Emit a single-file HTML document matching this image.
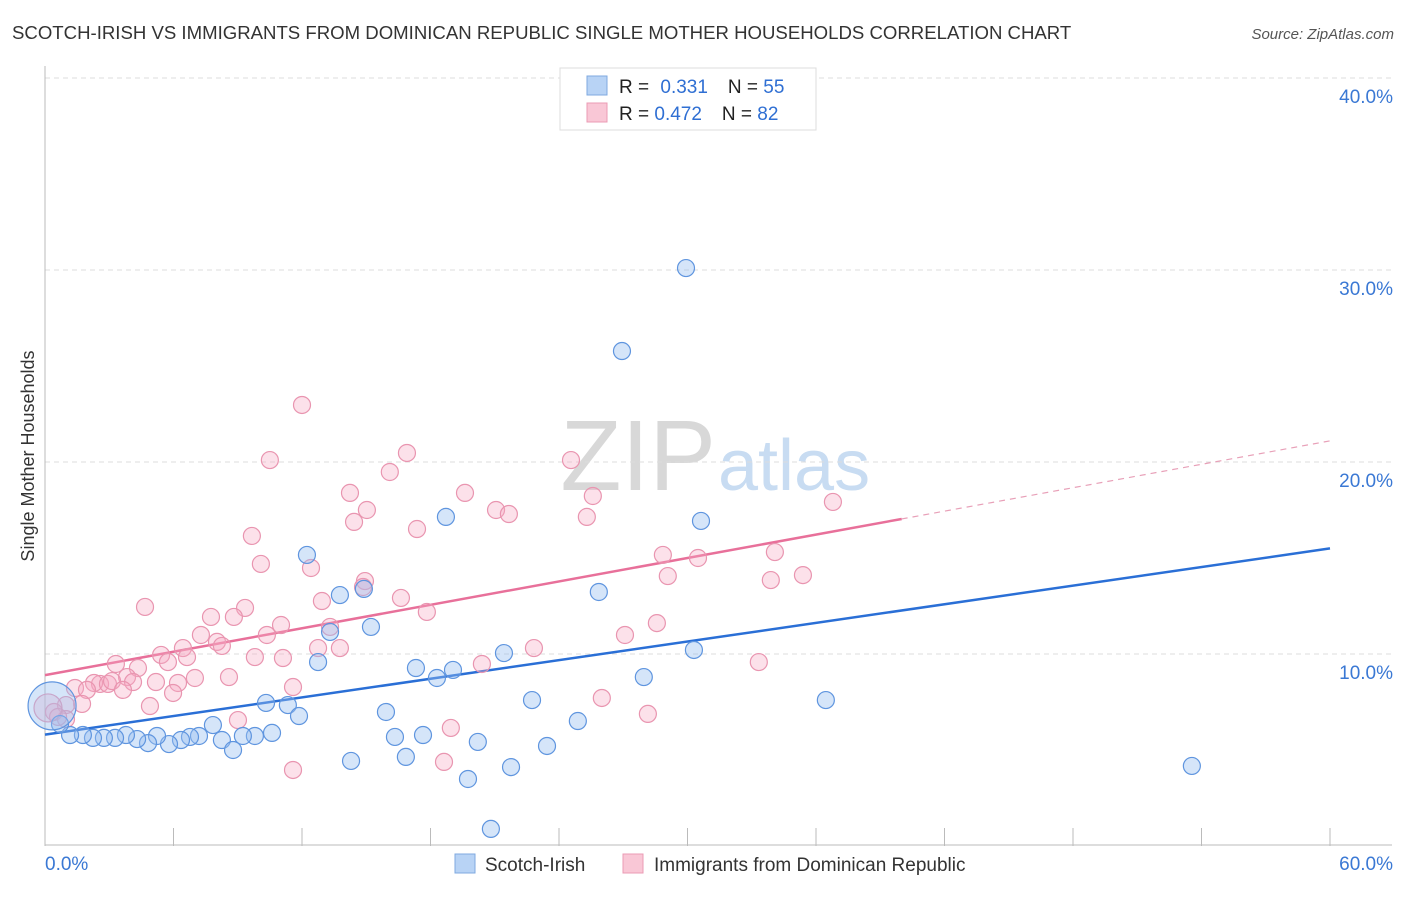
<!DOCTYPE html>
<html><head><meta charset="utf-8"><style>
body{margin:0;background:#fff;font-family:"Liberation Sans",sans-serif;}
svg text{font-family:"Liberation Sans",sans-serif;}
</style></head><body>
<svg id="chart" width="1406" height="892">
<text x="12" y="39" font-size="18.6" fill="#333">SCOTCH-IRISH VS IMMIGRANTS FROM DOMINICAN REPUBLIC SINGLE MOTHER HOUSEHOLDS CORRELATION CHART</text>
<text x="1394" y="39" font-size="15" fill="#555" font-style="italic" text-anchor="end">Source: ZipAtlas.com</text>
<text x="716" y="490" font-size="100" fill="#d8d8d8" text-anchor="end" font-family="Liberation Serif">ZIP</text>
<text x="718" y="490" font-size="72" fill="#c8dcf2">atlas</text>
<text transform="translate(34,456) rotate(-90)" font-size="18" fill="#333" text-anchor="middle">Single Mother Households</text>
<g id="grid"></g><g id="axes"></g><g id="trends"></g><g id="points"></g>
<g>
<rect x="560" y="68" width="256" height="62" fill="#fff" stroke="#ddd"/>
<rect x="587" y="76" width="20" height="19" fill="#b8d3f5" stroke="#7fa9e0"/>
<rect x="587" y="103" width="20" height="19" fill="#f9c7d6" stroke="#eb9bb4"/>
<text x="619" y="93" font-size="19" fill="#222">R = <tspan fill="#2f6fd3" dx="6">0.331</tspan><tspan fill="#222" dx="20">N = </tspan><tspan fill="#2f6fd3">55</tspan></text>
<text x="619" y="120" font-size="19" fill="#222">R = <tspan fill="#2f6fd3">0.472</tspan><tspan fill="#222" dx="20">N = </tspan><tspan fill="#2f6fd3">82</tspan></text>
</g>
<g>
<rect x="455" y="854" width="20" height="19" fill="#b8d3f5" stroke="#7fa9e0"/>
<text x="485" y="871" font-size="19" fill="#333">Scotch-Irish</text>
<rect x="623" y="854" width="20" height="19" fill="#f9c7d6" stroke="#eb9bb4"/>
<text x="654" y="871" font-size="19" fill="#333">Immigrants from Dominican Republic</text>
</g>
</svg>
<script>
const yTicks=[10,20,30,40];
const yTickLabels=["10.0%","20.0%","30.0%","40.0%"];
const xTicks=[0,6,12,18,24,30,36,42,48,54,60];
const xEndLabels=["0.0%","60.0%"];
const blueX=[29.93,26.94,12.23,18.72,30.63,25.86,13.77,14.89,15.22,13.31,12.75,21.43,30.3,17.32,19.05,18.3,27.96,22.74,36.46,10.32,11.34,11.86,15.92,24.88,7.84,10.6,9.8,9.24,8.26,7.19,6.77,6.35,5.79,5.23,4.81,4.3,3.78,3.27,2.75,2.24,1.77,1.17,0.7,14.29,16.34,17.65,20.21,23.44,16.85,21.76,19.75,20.82,53.55,8.78,0.33];
const blueY=[30.1,25.78,15.16,17.14,16.93,13.23,13.07,13.39,11.41,11.15,9.58,10.05,10.21,9.27,9.17,8.75,8.8,7.6,7.6,7.45,7.34,6.77,6.98,6.51,6.3,5.89,5.73,5.73,5.52,5.73,5.68,5.52,5.31,5.73,5.36,5.57,5.78,5.63,5.63,5.63,5.78,5.78,6.35,4.43,5.68,5.78,5.42,5.21,4.64,4.11,3.49,0.89,4.17,5.0,7.3];
const pinkX=[12.0,10.5,16.9,16.1,24.56,14.24,19.61,15.03,14.43,21.06,21.66,17.37,25.3,25.58,36.79,9.66,10.08,12.42,28.85,30.49,34.08,29.08,33.89,35.39,4.67,9.34,7.75,8.82,14.94,14.85,16.62,12.93,17.83,11.02,13.31,28.57,27.08,22.83,7.28,10.36,8.03,6.44,8.26,12.75,13.77,5.42,6.63,3.31,9.8,11.11,5.74,4.34,33.33,20.4,7.0,3.83,2.57,2.29,2.94,3.13,4.11,5.18,6.21,5.98,1.4,1.96,3.64,8.59,1.73,4.9,26.0,0.98,0.42,11.58,9.01,28.15,18.95,18.63,11.58,0.98,0.61,0.14];
const pinkY=[22.97,20.1,20.47,19.48,20.1,18.39,18.39,17.5,16.88,17.5,17.29,16.51,17.14,18.23,17.92,16.15,14.69,14.48,15.16,15.0,15.31,14.06,13.85,14.11,12.45,12.4,11.93,11.93,13.8,13.49,12.92,12.76,12.19,11.51,11.41,11.61,10.99,10.31,10.99,10.99,10.63,10.31,10.42,10.31,10.31,9.95,9.84,9.48,9.84,9.79,9.58,9.27,9.58,9.48,8.75,8.8,8.44,8.49,8.44,8.59,8.54,8.54,8.49,7.97,8.23,8.13,8.13,8.8,7.4,7.29,7.71,7.34,6.98,8.28,6.56,6.88,6.15,4.38,3.96,6.61,6.72,7.19];
const blueTrend=[5.8,15.5];
const pinkTrend=[8.9,21.1];
const pinkSolidEnd=40;

const NS="http://www.w3.org/2000/svg";
const X0=45,X1=1330,YB=846;
function sx(v){return X0+(X1-X0)*v/60;}
function sy(v){return YB-19.2*v;}
function mk(tag,attrs,parent){const e=document.createElementNS(NS,tag);for(const k in attrs)e.setAttribute(k,attrs[k]);document.getElementById(parent).appendChild(e);return e;}

yTicks.forEach((t,i)=>{
  const l=mk('line',{x1:X0,x2:1392,y1:sy(t),y2:sy(t),stroke:'#ddd','stroke-dasharray':'5,4'},'grid');
  
  
  const tx=mk('text',{x:1393,y:sy(t)+25,'font-size':19,fill:'#3a78d4','text-anchor':'end'},'grid');
  tx.textContent=yTickLabels[i];
  
  
});
let a=mk('line',{x1:X0,x2:X0,y1:66,y2:YB,stroke:'#bbb'},'axes');


a=mk('line',{x1:X0,x2:1392,y1:YB-1,y2:YB-1,stroke:'#bbb'},'axes');


xTicks.forEach(t=>{
  const l=mk('line',{x1:sx(t),x2:sx(t),y1:828,y2:YB,stroke:'#bbb'},'axes');
  
  
});
let t0=mk('text',{x:45,y:870,'font-size':19,fill:'#3a78d4'},'axes');
t0.textContent=xEndLabels[0];


let t1=mk('text',{x:1393,y:870,'font-size':19,fill:'#3a78d4','text-anchor':'end'},'axes');
t1.textContent=xEndLabels[1];



function pts(xs,ys,fill,stroke,name){
  xs.forEach((x,i)=>{
    const big=(name==='scotch-irish-point'&&i===xs.length-1)?24:(name==='dominican-point'&&i===xs.length-1?14:8.5);
    const c=mk('circle',{cx:sx(x),cy:sy(ys[i]),r:big,fill:fill,stroke:stroke,'stroke-width':1.2},'points');
    
    
  });
}
pts(pinkX,pinkY,'rgba(245,170,195,0.35)','#e995b0','dominican-point');
pts(blueX,blueY,'rgba(150,190,240,0.4)','#5f95df','scotch-irish-point');

let bl=mk('line',{x1:sx(0),y1:sy(blueTrend[0]),x2:sx(60),y2:sy(blueTrend[1]),stroke:'#2a6fd6','stroke-width':2.5},'trends');


const pAt=v=>pinkTrend[0]+(pinkTrend[1]-pinkTrend[0])*v/60;
let pl=mk('line',{x1:sx(0),y1:sy(pinkTrend[0]),x2:sx(pinkSolidEnd),y2:sy(pAt(pinkSolidEnd)),stroke:'#e8709a','stroke-width':2.5},'trends');


let pd=mk('line',{x1:sx(pinkSolidEnd),y1:sy(pAt(pinkSolidEnd)),x2:sx(60),y2:sy(pinkTrend[1]),stroke:'#e8a0b8','stroke-width':1.2,'stroke-dasharray':'6,5'},'trends');


</script>
</body></html>
